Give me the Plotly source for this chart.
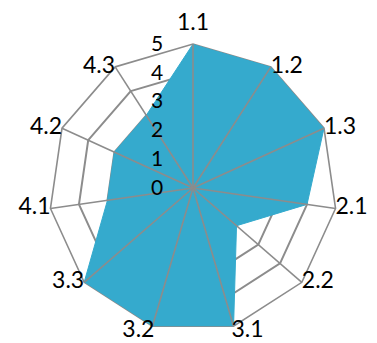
import plotly.graph_objects as go

categories = ["1.1", "1.2", "1.3", "2.1", "2.2", "3.1", "3.2", "3.3", "4.1", "4.2", "4.3"]
scores = [5, 5, 5, 4, 2, 5, 5, 5, 3, 3, 3]
radial_ticks = [0, 1, 2, 3, 4, 5]

grid_color = "#8c8c8c"
fill_color = "#35aacd"
font_family = "Lato, 'Open Sans', sans-serif"
label_font = dict(size=23, family=font_family, color="black")

# where each category label sits relative to its spoke end
label_positions = {
    "1.2": "middle right", "1.3": "middle right",
    "2.1": "middle right", "2.2": "middle right", "3.1": "bottom right",
    "3.2": "bottom left", "3.3": "middle left", "4.1": "middle left",
    "4.2": "middle left", "4.3": "middle left",
}
# the two bottom labels are pulled in a little so they stay inside the page
label_radius = {"3.1": 4.75, "3.2": 4.75}

fig = go.Figure()

# filled score polygon
fig.add_trace(go.Scatterpolar(
    r=scores + scores[:1],
    theta=categories + categories[:1],
    mode="lines",
    fill="toself",
    fillcolor=fill_color,
    line=dict(color=fill_color, width=1),
    hoverinfo="skip",
    showlegend=False,
))

# spokes drawn over the fill
for cat in categories:
    fig.add_trace(go.Scatterpolar(
        r=[0, radial_ticks[-1]],
        theta=[cat, cat],
        mode="lines",
        line=dict(color=grid_color, width=1.6),
        hoverinfo="skip",
        showlegend=False,
    ))

# category labels at the outer ring (the top one is an annotation below)
side_cats = categories[1:]
fig.add_trace(go.Scatterpolar(
    r=[label_radius.get(c, radial_ticks[-1]) for c in side_cats],
    theta=side_cats,
    mode="text",
    text=side_cats,
    textposition=[label_positions[c] for c in side_cats],
    textfont=label_font,
    cliponaxis=False,
    hoverinfo="skip",
    showlegend=False,
))

fig.add_annotation(
    text=categories[0],
    xref="paper", yref="paper",
    x=0.5, y=1.0,
    xanchor="center", yanchor="bottom",
    yshift=7,
    showarrow=False,
    font=label_font,
)

fig.update_layout(
    width=377,
    height=343,
    margin=dict(l=49, r=40, t=44, b=11),
    paper_bgcolor="white",
    plot_bgcolor="white",
    font=dict(family=font_family, color="black"),
    polar=dict(
        bgcolor="white",
        gridshape="linear",
        domain=dict(x=[0, 1], y=[0, 1]),
        radialaxis=dict(
            range=[0, radial_ticks[-1]],
            tickvals=radial_ticks,
            angle=90,
            side="counterclockwise",
            layer="above traces",
            showline=False,
            showgrid=True,
            gridcolor=grid_color,
            gridwidth=1.6,
            ticks="outside",
            ticklen=22,
            tickcolor="rgba(0,0,0,0)",
            tickfont=dict(size=21, family=font_family, color="black"),
            tickangle=90,
        ),
        angularaxis=dict(
            direction="clockwise",
            rotation=90,
            layer="below traces",
            showline=True,
            linecolor=grid_color,
            linewidth=1.6,
            showgrid=False,
            showticklabels=False,
            ticks="",
        ),
    ),
)

fig.write_html("out.html")
